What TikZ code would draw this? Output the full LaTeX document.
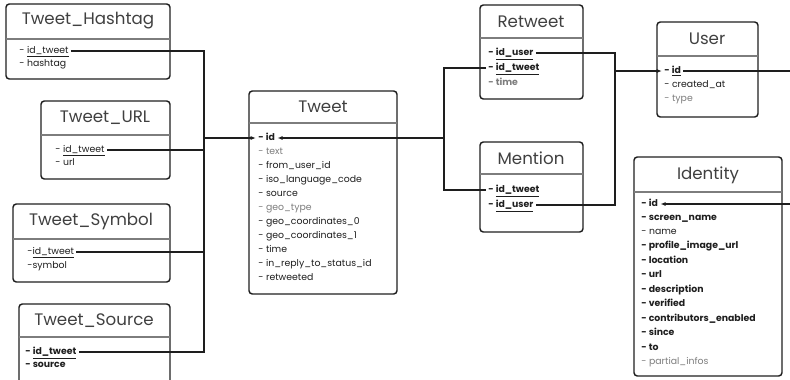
\documentclass[tikz,border=0pt]{standalone}
\usepackage{fontspec}
\setmainfont{Poppins}
\usetikzlibrary{positioning,arrows.meta}
\definecolor{ink}{RGB}{30,30,30}
\definecolor{faint}{RGB}{125,125,125}
\tikzset{
  tbl/.style={draw=ink, line width=1.1pt, rounded corners=2.5pt},
  sep/.style={draw=faint, line width=0.8pt},
  ttl/.style={font=\fontsize{12.5}{14}\selectfont, text=ink!85},
  attr/.style={anchor=west, inner ysep=0.6pt, inner xsep=1.6pt, text height=5pt, text depth=1.6pt,
    font=\fontsize{7}{8}\selectfont, text=ink},
  dim/.style={attr, text=faint},
  wire/.style={draw=ink, line width=0.9pt},
  link/.style={wire, -{Latex[length=4pt,width=3pt]}},
}
\newcommand{\key}[1]{\underline{#1}}
\begin{document}
\begin{tikzpicture}[x=0.75pt,y=-0.75pt]
\clip (0,0) rectangle (790,379);

% Tweet_Hashtag
\draw[tbl] (6,4) rectangle (170,79);
\draw[sep] (6,39) -- (170,39);
\node[ttl] (hashtag) at (88,21) {Tweet\_Hashtag};
\node[attr] (hashtagid) at (17,51) {- \key{id\_tweet}};
\node[attr] (hashtagtag) at (17,64) {- hashtag};

% Tweet_URL
\draw[tbl] (41,101) rectangle (170,179);
\draw[sep] (41,135) -- (170,135);
\node[ttl] (url) at (105,118) {Tweet\_URL};
\node[attr] (urlid) at (53,150) {- \key{id\_tweet}};
\node[attr] (urlurl) at (53,163) {- url};

% Tweet_Symbol
\draw[tbl] (13,204) rectangle (170,282);
\draw[sep] (13,239) -- (170,239);
\node[ttl] (symbol) at (91,221) {Tweet\_Symbol};
\node[attr] (symbolid) at (25,252) {-\key{id\_tweet}};
\node[attr] (symbolsym) at (25,266) {-symbol};

% Tweet_Source
\draw[tbl] (19,304) rectangle (170,392);
\draw[sep] (19,337) -- (170,337);
\node[ttl] (source) at (94,321) {Tweet\_Source};
\node[attr] (sourceid) at (23,352) {\textbf{- \key{id\_tweet}}};
\node[attr] (sourcesrc) at (23,365) {\textbf{- source}};

% Tweet
\draw[tbl] (249,91) rectangle (397,294);
\draw[sep] (249,123) -- (397,123);
\node[ttl] (tweet) at (323,107) {Tweet};
\node[attr] (tweetid) at (256,138) {\textbf{- id}};
\node[dim] (tweettext) at (256,152) {- text};
\node[attr] (tweetfrom) at (256,166) {- from\_user\_id};
\node[attr] (tweetlang) at (256,180) {- iso\_language\_code};
\node[attr] (tweetsrc) at (256,194) {- source};
\node[dim] (tweetgeo) at (256,208) {- geo\_type};
\node[attr] (tweetgeoa) at (256,222) {- geo\_coordinates\_0};
\node[attr] (tweetgeob) at (256,236) {- geo\_coordinates\_1};
\node[attr] (tweettime) at (256,250) {- time};
\node[attr] (tweetreply) at (256,264) {- in\_reply\_to\_status\_id};
\node[attr] (tweetrt) at (256,278) {- retweeted};

% Retweet
\draw[tbl] (480,5) rectangle (583,99);
\draw[sep] (480,38) -- (583,38);
\node[ttl] (retweet) at (531,22) {Retweet};
\node[attr] (retweetuser) at (486,53) {\textbf{- \key{id\_user}}};
\node[attr] (retweetid) at (486,68) {\textbf{- \key{id\_tweet}}};
\node[dim] (retweettime) at (486,83) {\textbf{- time}};

% Mention
\draw[tbl] (480,142) rectangle (583,232);
\draw[sep] (480,174) -- (583,174);
\node[ttl] (mention) at (531,158) {Mention};
\node[attr] (mentionid) at (486,190) {\textbf{- \key{id\_tweet}}};
\node[attr] (mentionuser) at (486,205) {\textbf{- \key{id\_user}}};

% User
\draw[tbl] (657,22) rectangle (758,117);
\draw[sep] (657,56) -- (758,56);
\node[ttl] (user) at (707,39) {User};
\node[attr] (userid) at (662,71) {\textbf{- \key{id}}};
\node[attr] (usercreated) at (662,85) {- created\_at};
\node[dim] (usertype) at (662,99) {- type};

% Identity
\draw[tbl] (634,157) rectangle (782,376);
\draw[sep] (634,192) -- (782,192);
\node[ttl] (identity) at (708,175) {Identity};
\node[attr] (identid) at (639,204) {\textbf{- id}};
\node[attr] (identscreen) at (639,218) {\textbf{- screen\_name}};
\node[attr] (identname) at (639,232) {- name};
\node[attr] (identprofile) at (639,246) {\textbf{- profile\_image\_url}};
\node[attr] (identloc) at (639,261) {\textbf{- location}};
\node[attr] (identurl) at (639,275) {\textbf{- url}};
\node[attr] (identdesc) at (639,290) {\textbf{- description}};
\node[attr] (identver) at (639,304) {\textbf{- verified}};
\node[attr] (identcontrib) at (639,319) {\textbf{- contributors\_enabled}};
\node[attr] (identsince) at (639,333) {\textbf{- since}};
\node[attr] (identto) at (639,348) {\textbf{- to}};
\node[dim] (identpartial) at (639,362) {- partial\_infos};

% bus lines
\coordinate (lbus) at (204,0);
\coordinate (mbus) at (444,0);
\coordinate (rbus) at (615,0);
\coordinate (uout) at (790,71);
\coordinate (iout) at (790,204);

\draw[wire] (hashtagid.east) -- (hashtagid.east -| lbus) -- (sourceid.east -| lbus) -- (sourceid.east);
\draw[wire] (urlid.east) -- (urlid.east -| lbus);
\draw[wire] (symbolid.east) -- (symbolid.east -| lbus);
\draw[link] (tweetid.west -| lbus) -- (tweetid.west);

\draw[wire] (retweetid.west) -- (retweetid.west -| mbus) -- (mentionid.west -| mbus) -- (mentionid.west);
\draw[link] (tweetid.west -| mbus) -- (tweetid.east);

\draw[wire] (retweetuser.east) -- (retweetuser.east -| rbus) -- (mentionuser.east -| rbus) -- (mentionuser.east);
\draw[link] (userid.west -| rbus) -- (userid.west);
\draw[wire] (userid.east) -- (uout);
\draw[link] (iout) -- (identid.east);

\end{tikzpicture}
\end{document}
